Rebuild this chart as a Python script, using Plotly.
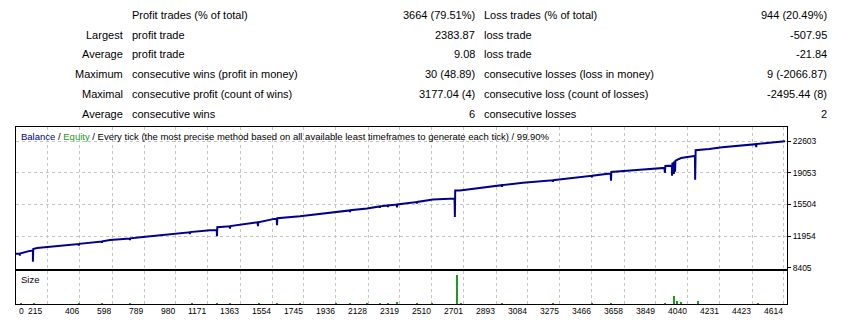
import plotly.graph_objects as go

W, H = 850, 325

# ---------------- data ----------------
stat_rows_left_prefix = ["", "Largest", "Average", "Maximum", "Maximal", "Average"]
stat_rows_left_label = ["Profit trades (% of total)", "profit trade", "profit trade",
                        "consecutive wins (profit in money)", "consecutive profit (count of wins)",
                        "consecutive wins"]
stat_rows_left_value = ["3664 (79.51%)", "2383.87", "9.08", "30 (48.89)", "3177.04 (4)", "6"]
stat_rows_right_label = ["Loss trades (% of total)", "loss trade", "loss trade",
                         "consecutive losses (loss in money)", "consecutive loss (count of losses)",
                         "consecutive losses"]
stat_rows_right_value = ["944 (20.49%)", "-507.95", "-21.84", "9 (-2066.87)", "-2495.44 (8)", "2"]

x_ticks = [215, 406, 598, 789, 980, 1171, 1363, 1554, 1745, 1936, 2128, 2319,
           2510, 2701, 2893, 3084, 3275, 3466, 3658, 3849, 4040, 4231, 4423, 4614]
y_ticks = [8405, 11954, 15504, 19053, 22603]

balance_trade = [24, 46, 47, 48, 106, 125, 125, 127, 150, 388, 398, 400, 402,
                 536, 538, 540, 586, 703, 705, 707, 783, 1062, 1063, 1065, 1183,
                 1224, 1225, 1227, 1301, 1303, 1305, 1468, 1470, 1472, 1582, 1584, 1586,
                 1721, 1918, 2018, 2020, 2022, 2122, 2197, 2199, 2201, 2245, 2247, 2249,
                 2299, 2301, 2303, 2418, 2420, 2422, 2516, 2645, 2647, 2649, 2677, 2857,
                 2927, 2929, 2931, 3054, 3231, 3233, 3235, 3257, 3455, 3464, 3466, 3468,
                 3562, 3579, 3580, 3582, 3753, 3900, 3902, 3905, 3944, 3945, 3947, 3955,
                 3956, 3958, 3962, 3963, 3965, 3975, 3999, 4077, 4082, 4083, 4086, 4167,
                 4245, 4447, 4448, 4450, 4620]
balance_value = [9960, 9990, 9740, 10000, 10290, 10330, 9070, 10510, 10620, 11050, 11060, 10900, 11080,
                 11340, 11200, 11360, 11510, 11680, 11520, 11700, 11840, 12380, 12180, 12400, 12620,
                 12640, 11950, 12950, 13060, 12800, 13080, 13500, 13060, 13510, 13940, 13180, 13960,
                 14170, 14620, 14830, 14650, 14850, 15060, 15280, 15120, 15290, 15390, 15200, 15400,
                 15500, 15170, 15510, 15780, 15600, 15790, 16060, 16170, 14100, 17060, 17060, 17500,
                 17670, 17500, 17680, 17940, 18220, 18050, 18230, 18280, 18700, 18720, 18560, 18730,
                 18940, 18960, 18170, 19160, 19390, 19610, 19050, 19830, 19860, 18720, 20100, 20150,
                 18940, 20270, 20280, 19170, 20400, 20500, 20720, 20940, 20950, 18280, 21600, 21720,
                 21940, 22270, 21940, 22280, 22600]

size_trade = [54, 131, 400, 538, 705, 1076, 1225, 1303, 1476, 1584, 1721, 1936, 2020,
              2122, 2199, 2247, 2301, 2420, 2510, 2660, 2684, 2929, 3233, 3466, 3580,
              3903, 3957, 3975, 3999, 4100, 4459]
size_value = [0.15, 0.1, 0.1, 0.1, 0.1, 0.1, 0.1, 0.1, 0.1, 0.1, 0.1, 0.1, 0.1,
              0.1, 0.1, 0.1, 0.25, 0.1, 0.1, 2.9, 0.1, 0.1, 0.1, 0.1, 0.1,
              0.15, 0.8, 0.4, 0.25, 0.4, 0.1]

# ---------------- geometry helpers ----------------
def px(x):
    return x / W

def py(y):
    return 1 - y / H

FONT = "Liberation Sans, Arial, sans-serif"
GRID = "#C4C4C4"
TICKSIZE = 8.5

fig = go.Figure()

fig.add_trace(go.Scatter(x=balance_trade, y=balance_value, mode="lines",
                         line=dict(color="#00008C", width=2), xaxis="x", yaxis="y",
                         showlegend=False, hoverinfo="skip"))
fig.add_trace(go.Bar(x=size_trade, y=size_value, width=6, marker=dict(color="#1E9A1E", line=dict(width=0)),
                     xaxis="x2", yaxis="y2", showlegend=False, hoverinfo="skip"))

xdom = [px(16), px(787)]
xr = [24, 4632]
axis_common = dict(showline=True, mirror=True, linecolor="black", linewidth=1, zeroline=False)

fig.update_layout(
    width=W, height=H, margin=dict(l=0, r=0, t=0, b=0),
    paper_bgcolor="white", plot_bgcolor="white",
    font=dict(family=FONT, size=11, color="black"),
    bargap=0,
    xaxis=dict(domain=xdom, range=xr, tickvals=x_ticks, showticklabels=False,
               showgrid=True, gridcolor=GRID, griddash="3px,3px", gridwidth=1,
               anchor="y", **axis_common),
    yaxis=dict(domain=[py(272), py(129)], range=[8294, 24156], side="right",
               tickvals=y_ticks, ticktext=[str(v) for v in y_ticks],
               ticks="outside", ticklen=3, tickcolor="black",
               tickfont=dict(family=FONT, size=TICKSIZE, color="black"),
               showgrid=True, gridcolor=GRID, griddash="3px,3px", gridwidth=1,
               anchor="x", **axis_common),
    xaxis2=dict(domain=xdom, range=xr, tickvals=x_ticks, showticklabels=False,
                showgrid=True, gridcolor=GRID, griddash="3px,3px", gridwidth=1,
                anchor="y2", **axis_common),
    yaxis2=dict(domain=[py(308), py(274)], range=[0, 3.3], showgrid=False,
                showticklabels=False, anchor="x2", **axis_common),
)

ann = []
row_y = [15, 35, 55, 75, 95, 115]
for i, yv in enumerate(row_y):
    if stat_rows_left_prefix[i]:
        ann.append(dict(x=px(125), y=py(yv), text=stat_rows_left_prefix[i], xanchor="right"))
    ann.append(dict(x=px(130), y=py(yv), text=stat_rows_left_label[i], xanchor="left"))
    ann.append(dict(x=px(477), y=py(yv), text=stat_rows_left_value[i], xanchor="right"))
    ann.append(dict(x=px(482), y=py(yv), text=stat_rows_right_label[i], xanchor="left"))
    ann.append(dict(x=px(829), y=py(yv), text=stat_rows_right_value[i], xanchor="right"))
for a in ann:
    a.update(xref="paper", yref="paper", yanchor="middle", showarrow=False,
             font=dict(family=FONT, size=11, color="black"))

ann.append(dict(x=px(19), y=py(138), xref="paper", yref="paper", xanchor="left", yanchor="middle",
                showarrow=False, font=dict(family=FONT, size=9.5, color="black"),
                text='<span style="color:#00008C">Balance</span> / <span style="color:#1E9A1E">Equity</span>'
                     ' / Every tick (the most precise method based on all available least timeframes'
                     ' to generate each tick) / 99.90%'))
ann.append(dict(x=px(19), y=py(283), xref="paper", yref="paper", xanchor="left", yanchor="middle",
                showarrow=False, font=dict(family=FONT, size=9.5, color="black"), text="Size"))

# bottom tick labels, right-aligned to gridlines
ann.append(dict(x=px(17), y=py(315), xref="paper", yref="paper", xanchor="left", yanchor="middle",
                showarrow=False, font=dict(family=FONT, size=TICKSIZE, color="black"), text="0"))
for t in x_ticks:
    ann.append(dict(x=t, y=py(315), xref="x2", yref="paper", xanchor="right", yanchor="middle",
                    xshift=(-4 if t == 215 else 1), showarrow=False,
                    font=dict(family=FONT, size=TICKSIZE, color="black"), text=str(t)))

fig.update_layout(annotations=ann)
fig.write_html("out.html")
